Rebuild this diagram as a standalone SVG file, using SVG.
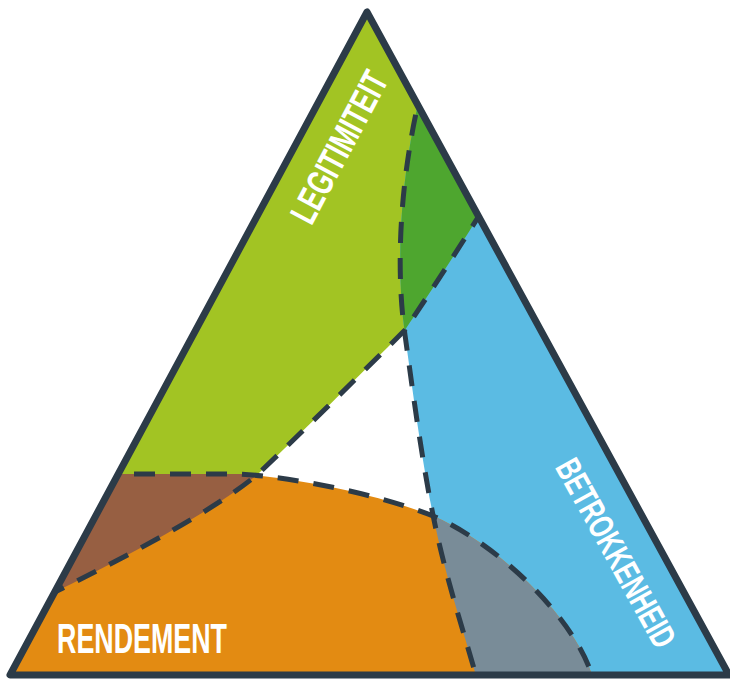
<svg xmlns="http://www.w3.org/2000/svg" width="730" height="685" viewBox="0 0 730 685">
  <style>
    .dash { fill: none; stroke: #2c3b48; stroke-width: 5; stroke-dasharray: 21 15; }
    .label { font-family: "Liberation Sans", Arial, sans-serif; font-weight: bold; fill: #ffffff; }
  </style>
  <defs>
    <clipPath id="tri">
      <path d="M367,12 L10,675 L729,675 Z"/>
    </clipPath>
    <path id="greenShape" d="M45,597 C130,555 215,510 258,474 C300,434 360,375 405,330 C425,300 455,255 495,190 L740,-10 L-10,-10 L-10,600 Z"/>
    <path id="blueShape" d="M424,80 C405,150 393,250 405,335 C410,370 420,450 433,515 C446,580 465,635 480,690 L740,690 L740,-10 L440,-10 Z"/>
    <path id="orangeShape" d="M-10,474 L240,474 C300,478 380,495 433,516 C490,540 570,610 592,675 L597,690 L-10,690 Z"/>
    <clipPath id="clipGreen"><use href="#greenShape"/></clipPath>
    <clipPath id="clipBlue"><use href="#blueShape"/></clipPath>
  </defs>

  <g clip-path="url(#tri)">
    <rect x="0" y="0" width="730" height="685" fill="#ffffff"/>
    <g id="legitimiteit-area"><use href="#greenShape" fill="#a2c423"/></g>
    <g id="betrokkenheid-area"><use href="#blueShape" fill="#5bbbe3"/></g>
    <g id="rendement-area"><use href="#orangeShape" fill="#e38b12"/></g>
    <g id="overlap-legitimiteit-betrokkenheid" clip-path="url(#clipGreen)"><use href="#blueShape" fill="#4ea62f"/></g>
    <g id="overlap-legitimiteit-rendement" clip-path="url(#clipGreen)"><use href="#orangeShape" fill="#975f42"/></g>
    <g id="overlap-betrokkenheid-rendement" clip-path="url(#clipBlue)"><use href="#orangeShape" fill="#798c98"/></g>
    <g id="connectors">
      <path class="dash" d="M45,597 C130,555 215,510 258,474 C300,434 360,375 405,330 C425,300 455,255 495,190"/>
      <path class="dash" d="M424,80 C405,150 393,250 405,335 C410,370 420,450 433,515 C446,580 465,635 480,690"/>
      <path class="dash" d="M-10,474 L240,474 C300,478 380,495 433,516 C490,540 570,610 592,675 L597,690"/>
    </g>
  </g>

  <g id="outline">
    <path d="M367,12 L10,675 L729,675 Z" fill="none" stroke="#2c3b48" stroke-width="7" stroke-linejoin="round"/>
  </g>

  <g id="label-legitimiteit">
    <text class="label" transform="translate(339,147) rotate(-62)" x="0" y="13" font-size="37" text-anchor="middle" textLength="166" lengthAdjust="spacingAndGlyphs">LEGITIMITEIT</text>
  </g>
  <g id="label-betrokkenheid">
    <text class="label" transform="translate(616,553) rotate(61)" x="0" y="12" font-size="35" text-anchor="middle" textLength="210" lengthAdjust="spacingAndGlyphs">BETROKKENHEID</text>
  </g>
  <g id="label-rendement">
    <text class="label" x="57" y="653" font-size="43" textLength="170" lengthAdjust="spacingAndGlyphs">RENDEMENT</text>
  </g>
</svg>
